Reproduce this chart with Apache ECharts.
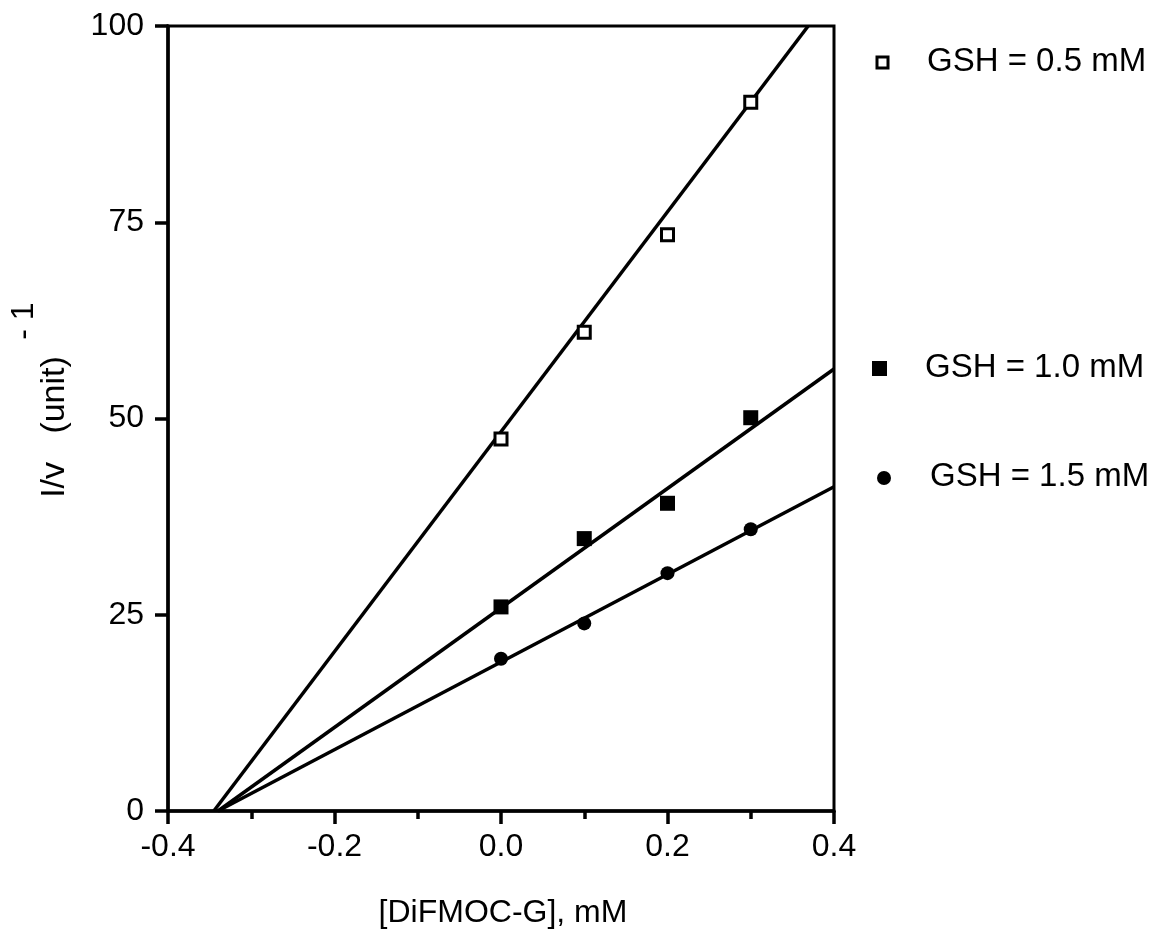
<!DOCTYPE html>
<html>
<head>
	<meta charset="utf-8">
	<title>DiFMOC-G</title>
	<script src="https://cdn.jsdelivr.net/npm/echarts@6/dist/echarts.min.js"></script>
	<style>
		html, body { margin: 0; padding: 0; background: #fff; }
		#main { width: 1158px; height: 937px; }
	</style>
</head>
<body>
	<div id="main"></div>
	<script type="text/javascript">
		// concentrations of DiFMOC-G (mM)
		var conc = [0.0, 0.1, 0.2, 0.3];
		// measured 1/v values
		var gsh05 = [47.4, 61.0, 73.4, 90.3];
		var gsh10 = [26.0, 34.7, 39.2, 50.1];
		var gsh15 = [19.4, 23.9, 30.3, 35.9];
		// fitted lines, end points
		var fit05X = [-0.345, 0.369];
		var fit05Y = [0, 100];
		var fit10X = [-0.34, 0.4];
		var fit10Y = [0, 56.3];
		var fit15X = [-0.34, 0.4];
		var fit15Y = [0, 41.3];
		var xTicks = [-0.4, -0.2, 0.0, 0.2, 0.4];
		var yTicks = [0, 25, 50, 75, 100];

		function pairs(xs, ys) {
			return xs.map(function (x, i) { return [x, ys[i]]; });
		}

		var font = 'Liberation Sans, Arial, Helvetica, sans-serif';
		var myChart = echarts.init(document.getElementById('main'));

		var option = {
			backgroundColor: '#fff',
			animation: false,
			grid: {
				left: 168, right: 324, top: 26, bottom: 126,
				show: true, borderColor: '#000', borderWidth: 3
			},
			xAxis: {
				type: 'value',
				min: xTicks[0], max: xTicks[xTicks.length - 1], interval: 0.2,
				axisLine: { onZero: false, lineStyle: { color: '#000', width: 3.5 } },
				axisTick: { length: 13, lineStyle: { color: '#000', width: 3.5 } },
				minorTick: { show: true, splitNumber: 2, length: 8, lineStyle: { color: '#000', width: 3.5 } },
				splitLine: { show: false },
				axisLabel: {
					margin: 20, color: '#000', fontSize: 32, fontFamily: font,
					formatter: function (v) { return v.toFixed(1); }
				}
			},
			yAxis: {
				type: 'value',
				min: yTicks[0], max: yTicks[yTicks.length - 1], interval: 25,
				axisLine: { show: true, onZero: false, lineStyle: { color: '#000', width: 3.5 } },
				axisTick: { show: true, length: 13, lineStyle: { color: '#000', width: 3.5 } },
				splitLine: { show: false },
				axisLabel: { margin: 24, color: '#000', fontSize: 32, fontFamily: font }
			},
			series: [
				{
					name: 'fit 0.5', type: 'line', data: pairs(fit05X, fit05Y),
					showSymbol: false, lineStyle: { color: '#000', width: 3.5 }, z: 2
				},
				{
					name: 'fit 1.0', type: 'line', data: pairs(fit10X, fit10Y),
					showSymbol: false, lineStyle: { color: '#000', width: 3.5 }, z: 2
				},
				{
					name: 'fit 1.5', type: 'line', data: pairs(fit15X, fit15Y),
					showSymbol: false, lineStyle: { color: '#000', width: 3.5 }, z: 2
				},
				{
					name: 'GSH = 0.5 mM', type: 'scatter', data: pairs(conc, gsh05),
					symbol: 'rect', symbolSize: 12,
					itemStyle: { color: '#fff', borderColor: '#000', borderWidth: 3, opacity: 1 }, z: 3
				},
				{
					name: 'GSH = 1.0 mM', type: 'scatter', data: pairs(conc, gsh10),
					symbol: 'rect', symbolSize: 15,
					itemStyle: { color: '#000', opacity: 1 }, z: 3
				},
				{
					name: 'GSH = 1.5 mM', type: 'scatter', data: pairs(conc, gsh15),
					symbol: 'circle', symbolSize: 14,
					itemStyle: { color: '#000', opacity: 1 }, z: 3
				}
			],
			graphic: [
				// legend
				{ type: 'rect', shape: { x: 877, y: 57, width: 11, height: 11 },
					style: { fill: '#fff', stroke: '#000', lineWidth: 3 } },
				{ type: 'text', x: 927, y: 62,
					style: { text: 'GSH = 0.5 mM', font: '33px ' + font, fill: '#000', verticalAlign: 'middle' } },
				{ type: 'rect', shape: { x: 872, y: 361, width: 15, height: 15 },
					style: { fill: '#000' } },
				{ type: 'text', x: 925, y: 368,
					style: { text: 'GSH = 1.0 mM', font: '33px ' + font, fill: '#000', verticalAlign: 'middle' } },
				{ type: 'circle', shape: { cx: 884, cy: 478, r: 7 },
					style: { fill: '#000' } },
				{ type: 'text', x: 930, y: 477,
					style: { text: 'GSH = 1.5 mM', font: '33px ' + font, fill: '#000', verticalAlign: 'middle' } },
				// axis titles
				{ type: 'text', x: 503, y: 913,
					style: { text: '[DiFMOC-G], mM', font: '32px ' + font, fill: '#000', align: 'center', verticalAlign: 'middle' } },
				{ type: 'text', x: 55, y: 427, rotation: Math.PI / 2,
					style: { text: 'I/v   (unit)', font: '34px ' + font, fill: '#000', align: 'center', verticalAlign: 'middle' } },
				{ type: 'text', x: 24, y: 321, rotation: Math.PI / 2,
					style: { text: '- 1', font: '32px ' + font, fill: '#000', align: 'center', verticalAlign: 'middle' } }
			]
		};

		myChart.setOption(option);
	</script>
</body>
</html>
